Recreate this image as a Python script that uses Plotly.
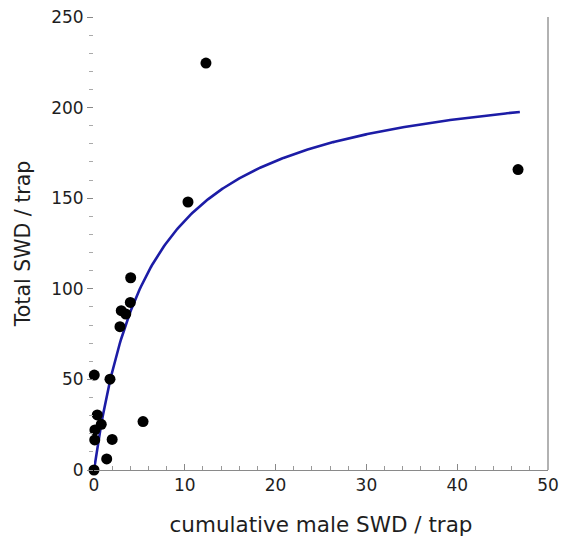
import numpy as np
import plotly.graph_objects as go

# Trap catches: cumulative male SWD vs total SWD per trap
male_swd = [0.0, 0.03, 0.1, 0.08, 0.36, 0.8, 1.4, 1.76, 2.0, 5.4,
            2.86, 3.0, 3.5, 4.0, 4.04, 10.35, 12.33, 46.7]
total_swd = [0.0, 52.4, 22.1, 16.6, 30.4, 25.2, 6.1, 50.1, 16.9, 26.7,
             79.1, 87.9, 86.1, 92.5, 106.1, 147.9, 224.6, 165.8]

# Saturating (Michaelis-Menten type) fit: y = vmax * x / (k + x)
fit_vmax = 224.0
fit_k = 6.27
fit_x_max = 46.9

x_ticks = [0, 10, 20, 30, 40, 50]
y_ticks = [0, 50, 100, 150, 200, 250]

curve_x = np.linspace(0, fit_x_max, 300)
curve_y = fit_vmax * curve_x / (fit_k + curve_x)

font_family = "DejaVu Sans, Open Sans, sans-serif"
text_color = "#1e1e1e"

fig = go.Figure()
fig.add_trace(go.Scatter(
    x=curve_x, y=curve_y, mode="lines",
    line=dict(color="#1c1ca6", width=2.6),
    hoverinfo="skip", cliponaxis=False,
))
fig.add_trace(go.Scatter(
    x=male_swd, y=total_swd, mode="markers",
    marker=dict(color="black", size=11),
    cliponaxis=False,
))

fig.update_layout(
    width=566, height=544,
    margin=dict(l=94, r=18, t=17, b=74, autoexpand=False),
    paper_bgcolor="white", plot_bgcolor="white",
    showlegend=False,
    font=dict(family=font_family, color=text_color),
    xaxis=dict(
        range=[0, 50], tickvals=x_ticks, ticks="inside", ticklen=6,
        tickcolor="#888888", showgrid=False, zeroline=False,
        showline=True, linecolor="#8a8a8a", linewidth=1,
        tickfont=dict(size=17, color=text_color), automargin=False,
        minor=dict(dtick=2, ticks="inside", ticklen=4, tickcolor="#999999"),
        title=dict(text="cumulative male SWD / trap", font=dict(size=21.5), standoff=22),
    ),
    yaxis=dict(
        range=[0, 250], tickvals=y_ticks, ticks="outside", ticklen=6,
        tickcolor="#888888", showgrid=False, zeroline=False,
        showline=False, automargin=False,
        tickfont=dict(size=17, color=text_color),
        minor=dict(dtick=10, ticks="outside", ticklen=4, tickcolor="#aaaaaa"),
        title=dict(text="Total SWD / trap", font=dict(size=20.5), standoff=14),
    ),
    shapes=[dict(type="line", xref="paper", yref="paper", x0=1, x1=1, y0=0, y1=1,
                 line=dict(color="#999999", width=1.5))],
)

fig.write_html("out.html")
